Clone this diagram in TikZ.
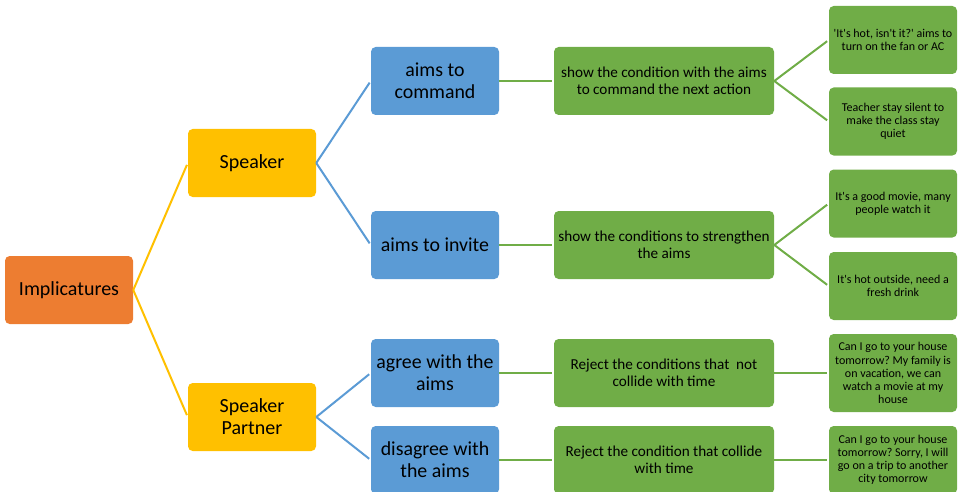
\documentclass[tikz,border=0pt]{standalone}
\usepackage{fontspec}
\setmainfont{Carlito}[Ligatures=TeXOff]
\usetikzlibrary{positioning}
\definecolor{rootorange}{HTML}{ED7D31}
\definecolor{rolegold}{HTML}{FFC000}
\definecolor{aimblue}{HTML}{5B9BD5}
\definecolor{leafgreen}{HTML}{70AD47}
\frenchspacing

\begin{document}
\begin{tikzpicture}[
    x=0.75pt, y=-0.75pt,
    box/.style={rounded corners=3.5pt, align=center, inner sep=2pt, text=black},
    root/.style={box, fill=rootorange, minimum width=96pt, minimum height=51pt,
        font=\fontsize{15}{16.5}\selectfont},
    role/.style={box, fill=rolegold, minimum width=96pt, minimum height=51pt,
        font=\fontsize{15}{16.5}\selectfont},
    aim/.style={box, fill=aimblue, minimum width=96pt, minimum height=51pt,
        font=\fontsize{14.9}{16.5}\selectfont},
    cond/.style={box, fill=leafgreen, minimum width=165pt, minimum height=51pt,
        font=\fontsize{11.4}{12.8}\selectfont},
    case/.style={box, fill=leafgreen, minimum width=96pt, minimum height=51pt,
        font=\fontsize{9}{9.8}\selectfont},
    link/.style={line width=1.5pt, shorten >=1.5pt}
]
\useasboundingbox (0,0) rectangle (961,492);
% root and roles
\node[root] (imp) at (69,290) {Implicatures};
\node[role] (spk) at (252,163) {Speaker};
\node[role] (prt) at (252,417) {Speaker\\Partner};
% aims
\node[aim] (cmd) at (435,81) {aims to\\command};
\node[aim] (inv) at (435,245) {aims to invite};
\node[aim] (agr) at (435,373) {agree with the\\aims};
\node[aim] (dis) at (435,460) {disagree with\\the aims};
% conditions
\node[cond] (c1) at (664,81) {show the condition with the aims\\to command the next action};
\node[cond] (c2) at (664,245) {show the conditions to strengthen\\the aims};
\node[cond] (c3) at (664,373) {Reject the conditions that \ not\\collide with time};
\node[cond] (c4) at (664,460) {Reject the condition that collide\\with time};
% examples
\node[case] (e1) at (893,40) {'It's hot, isn't it?' aims to\\turn on the fan or AC};
\node[case] (e2) at (893,121.5) {Teacher stay silent to\\make the class stay\\quiet};
\node[case] (e3) at (893,203.5) {It's a good movie, many\\people watch it};
\node[case] (e4) at (893,286) {It's hot outside, need a\\fresh drink};
\node[case, minimum height=58.5pt] (e5) at (893,373)
    {Can I go to your house\\tomorrow? My family is\\on vacation, we can\\watch a movie at my\\house};
\node[case] (e6) at (893,460)
    {Can I go to your house\\tomorrow? Sorry, I will\\go on a trip to another\\city tomorrow};
% links
\draw[link, rolegold] (imp.east) -- (spk.west);
\draw[link, rolegold] (imp.east) -- (prt.west);
\draw[link, aimblue] (spk.east) -- (cmd.west);
\draw[link, aimblue] (spk.east) -- (inv.west);
\draw[link, aimblue] (prt.east) -- (agr.west);
\draw[link, aimblue] (prt.east) -- (dis.west);
\draw[link, leafgreen] (cmd.east) -- (c1.west);
\draw[link, leafgreen] (inv.east) -- (c2.west);
\draw[link, leafgreen] (agr.east) -- (c3.west);
\draw[link, leafgreen] (dis.east) -- (c4.west);
\draw[link, leafgreen] (c1.east) -- (e1.west);
\draw[link, leafgreen] (c1.east) -- (e2.west);
\draw[link, leafgreen] (c2.east) -- (e3.west);
\draw[link, leafgreen] (c2.east) -- (e4.west);
\draw[link, leafgreen] (c3.east) -- (e5.west);
\draw[link, leafgreen] (c4.east) -- (e6.west);
\end{tikzpicture}
\end{document}
